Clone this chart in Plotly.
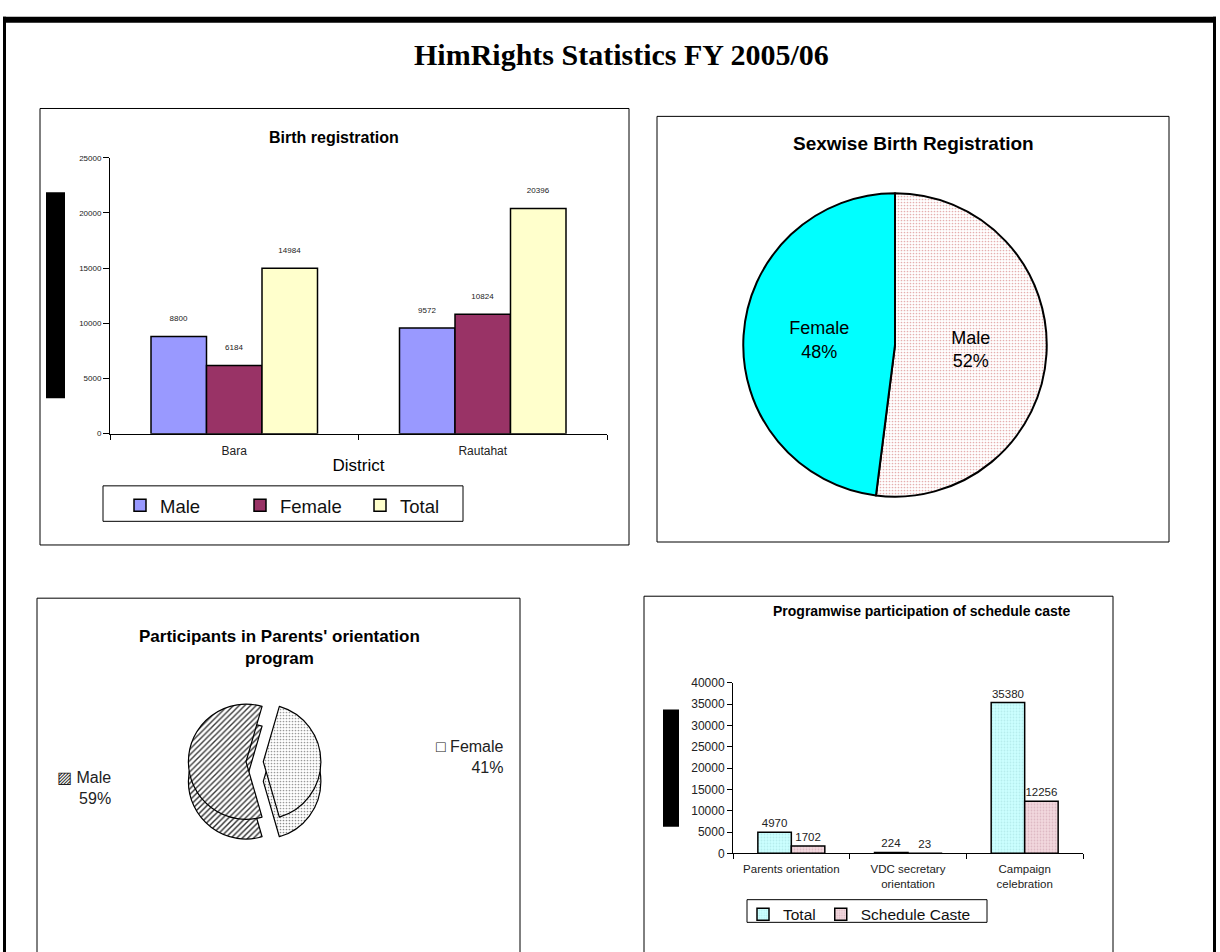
import plotly.graph_objects as go

# ---------------- data ----------------
districts = ["Bara", "Rautahat"]
birth_male = [8800, 9572]
birth_female = [6184, 10824]
birth_total = [14984, 20396]

sex_labels = ["Male", "Female"]
sex_values = [52, 48]

parent_labels = ["Female", "Male"]
parent_values = [41, 59]

programs = ["Parents orientation", "VDC secretary<br>orientation", "Campaign<br>celebration"]
prog_total = [4970, 224, 35380]
prog_sc = [1702, 23, 12256]

W, H = 1220, 952
def X(p): return p / W
def Y(p): return 1 - p / H

ARIAL = "Liberation Sans, Arial, sans-serif"

fig = go.Figure()

# ---------------- chart 1: Birth registration ----------------
for name, vals, col in [("Male", birth_male, "#9999FF"),
                        ("Female", birth_female, "#993366"),
                        ("Total", birth_total, "#FFFFCC")]:
    fig.add_trace(go.Bar(
        x=districts, y=vals, name=name, xaxis="x", yaxis="y",
        marker=dict(color=col, line=dict(color="black", width=1.5)),
        text=vals, texttemplate="%{text}<br> ", textposition="outside",
        textfont=dict(size=8, color="#222", family=ARIAL),
        cliponaxis=False, legend="legend"))

# ---------------- chart 4: Programwise ----------------
BW4 = 0.287
fig.add_trace(go.Bar(
    x=programs, y=prog_total, name="Total", xaxis="x2", yaxis="y2",
    width=BW4, offset=-BW4,
    marker=dict(color="#CCFFFF", line=dict(color="black", width=1.5),
                pattern=dict(shape=".", fgcolor="#9EDADA", size=3, solidity=0.3)),
    text=prog_total, textposition="outside",
    textfont=dict(size=11.5, color="#222", family=ARIAL),
    cliponaxis=False, legend="legend2"))
fig.add_trace(go.Bar(
    x=programs, y=prog_sc, name="Schedule Caste", xaxis="x2", yaxis="y2",
    width=BW4, offset=0,
    marker=dict(color="#F3D9DF", line=dict(color="black", width=1.5),
                pattern=dict(shape=".", fgcolor="#C797A5", size=3, solidity=0.3)),
    text=prog_sc, textposition="outside",
    textfont=dict(size=11.5, color="#222", family=ARIAL),
    cliponaxis=False, legend="legend2"))

# ---------------- chart 2: Sexwise pie ----------------
fig.add_trace(go.Pie(
    labels=sex_labels, values=sex_values, sort=False, direction="clockwise",
    rotation=0, domain=dict(x=[X(742), X(1048)], y=[Y(497), Y(189)]),
    marker=dict(colors=["#FCEBEB", "#00FFFF"], line=dict(color="black", width=2),
                pattern=dict(shape=[".", ""], fgcolor=["#E5AFAF", "#00FFFF"],
                             size=[3, 3], solidity=[0.25, 0.1])),
    texttemplate="%{label}<br>%{percent:.0%}", textposition="inside",
    insidetextorientation="horizontal",
    textfont=dict(size=18, color="black", family=ARIAL),
    showlegend=False, hoverinfo="label+percent"))

# ---------------- chart 3: Parents' orientation pie (pseudo 3D) ----------------
rot = 90 - 360 * parent_values[0] / sum(parent_values) / 2
R3, CX3, CY3, DEPTH = 76, 246, 766, 20
for dy, cols, fgs in [(DEPTH, ["#8C8C8C", "#6E6E6E"], ["#8C8C8C", "#2A2A2A"]),
                      (0, ["#F4F4F4", "#C4C4C4"], ["#9A9A9A", "#3A3A3A"])]:
    fig.add_trace(go.Pie(
        labels=parent_labels, values=parent_values, sort=False,
        direction="clockwise", rotation=rot, pull=[0.3, 0],
        domain=dict(x=[X(CX3 - R3), X(CX3 + R3)],
                    y=[Y(CY3 + dy + R3), Y(CY3 + dy - R3)]),
        marker=dict(colors=cols, line=dict(color="black", width=1.2),
                    pattern=dict(shape=[".", "/"], fgcolor=fgs, size=[3, 4],
                                 solidity=[0.25, 0.35])),
        textinfo="none", showlegend=False, hoverinfo="label+percent"))

tot = sum(parent_values)
sym = {"Male": "▨", "Female": "□"}
pos = {"Male": (113, 793), "Female": (506, 761)}
annotations = []
for lab, v in zip(parent_labels, parent_values):
    px, py = pos[lab]
    annotations.append(dict(
        x=X(px), y=Y(py), xanchor="right", align="right",
        text=f"{sym[lab]} {lab}<br>{round(v / tot * 100)}%",
        font=dict(size=16, color="#222", family=ARIAL)))

# ---------------- titles ----------------
annotations += [
    dict(x=X(621), y=Y(48), text="<b>HimRights Statistics FY 2005/06</b>",
         font=dict(size=30, family="Liberation Serif, Times New Roman, serif", color="black")),
    dict(x=X(334), y=Y(132), text="<b>Birth registration</b>",
         font=dict(size=16, family=ARIAL, color="black")),
    dict(x=X(913), y=Y(139), text="<b>Sexwise Birth Registration</b>",
         font=dict(size=19, family=ARIAL, color="black")),
    dict(x=X(279), y=Y(650), text="<b>Participants in Parents' orientation<br>program</b>",
         font=dict(size=17, family=ARIAL, color="black")),
    dict(x=X(921), y=Y(613), text="<b>Programwise participation of schedule caste</b>",
         font=dict(size=14, family=ARIAL, color="black")),
]
for a in annotations:
    a.setdefault("xref", "paper"); a.setdefault("yref", "paper")
    a.setdefault("showarrow", False); a.setdefault("xanchor", "center")
    a.setdefault("yanchor", "middle")

# ---------------- shapes ----------------
def rect(x0, y0, x1, y1, **kw):
    d = dict(type="rect", xref="paper", yref="paper",
             x0=X(x0), x1=X(x1), y0=Y(y1), y1=Y(y0), layer="below")
    d.update(kw)
    return d

shapes = [
    rect(40, 103, 629, 546, line=dict(color="black", width=1)),
    rect(657, 111, 1169, 543, line=dict(color="black", width=1)),
    rect(37, 600, 520, 970, line=dict(color="black", width=1)),
    rect(644, 598, 1113, 970, line=dict(color="black", width=1)),
    rect(103, 486, 463, 522, line=dict(color="black", width=1)),
    rect(747, 906, 987, 929, line=dict(color="black", width=1)),
    rect(46, 188, 65, 397, fillcolor="black", line=dict(width=0)),
    rect(663, 713, 679, 832, fillcolor="black", line=dict(width=0)),
    rect(3, 10, 1216, 16, fillcolor="black", line=dict(width=0)),
    rect(3, 10, 6, 960, fillcolor="black", line=dict(width=0)),
    rect(1213, 10, 1216, 960, fillcolor="black", line=dict(width=0)),
]

axis_common = dict(showline=True, linecolor="black", linewidth=1, ticks="outside",
                   tickcolor="black", showgrid=False, zeroline=False, fixedrange=True)

fig.update_layout(
    width=W, height=H, margin=dict(l=0, r=0, t=0, b=0),
    paper_bgcolor="white", plot_bgcolor="white",
    font=dict(family=ARIAL, color="black"),
    barmode="group",
    xaxis=dict(domain=[X(110), X(607)], anchor="y", type="category",
               tickson="boundaries", ticklen=5, ticklabelstandoff=6,
               tickfont=dict(size=12, color="#222"),
               title=dict(text="District", font=dict(size=17), standoff=2),
               **axis_common),
    yaxis=dict(domain=[Y(433), Y(153)], anchor="x", range=[0, 25000], dtick=5000,
               tickformat="d", ticklen=6, tickfont=dict(size=8, color="#222"),
               **axis_common),
    xaxis2=dict(domain=[X(733), X(1083)], anchor="y2", type="category",
                tickson="boundaries", ticklen=5, ticklabelstandoff=5,
                tickfont=dict(size=11.5, color="#222"), **axis_common),
    yaxis2=dict(domain=[Y(859), Y(686)], anchor="x2", range=[0, 40000], dtick=5000,
                tickformat="d", ticklen=5, tickfont=dict(size=12, color="#222"),
                **axis_common),
    bargap=0.33, bargroupgap=0,
    legend=dict(orientation="h", x=X(120), y=Y(487), xanchor="left", yanchor="top",
                borderwidth=0, font=dict(size=18.5, color="#111"),
                entrywidth=75, entrywidthmode="pixels", itemwidth=30,
                bgcolor="rgba(0,0,0,0)"),
    legend2=dict(orientation="h", x=X(743), y=Y(904), xanchor="left", yanchor="top",
                 borderwidth=0, font=dict(size=15.5, color="#111"), itemwidth=30,
                 bgcolor="rgba(0,0,0,0)"),
    annotations=annotations, shapes=shapes,
)

fig.write_html("out.html", config={"displayModeBar": False},
               post_script="document.body.style.margin='0';document.body.style.overflow='hidden';")
